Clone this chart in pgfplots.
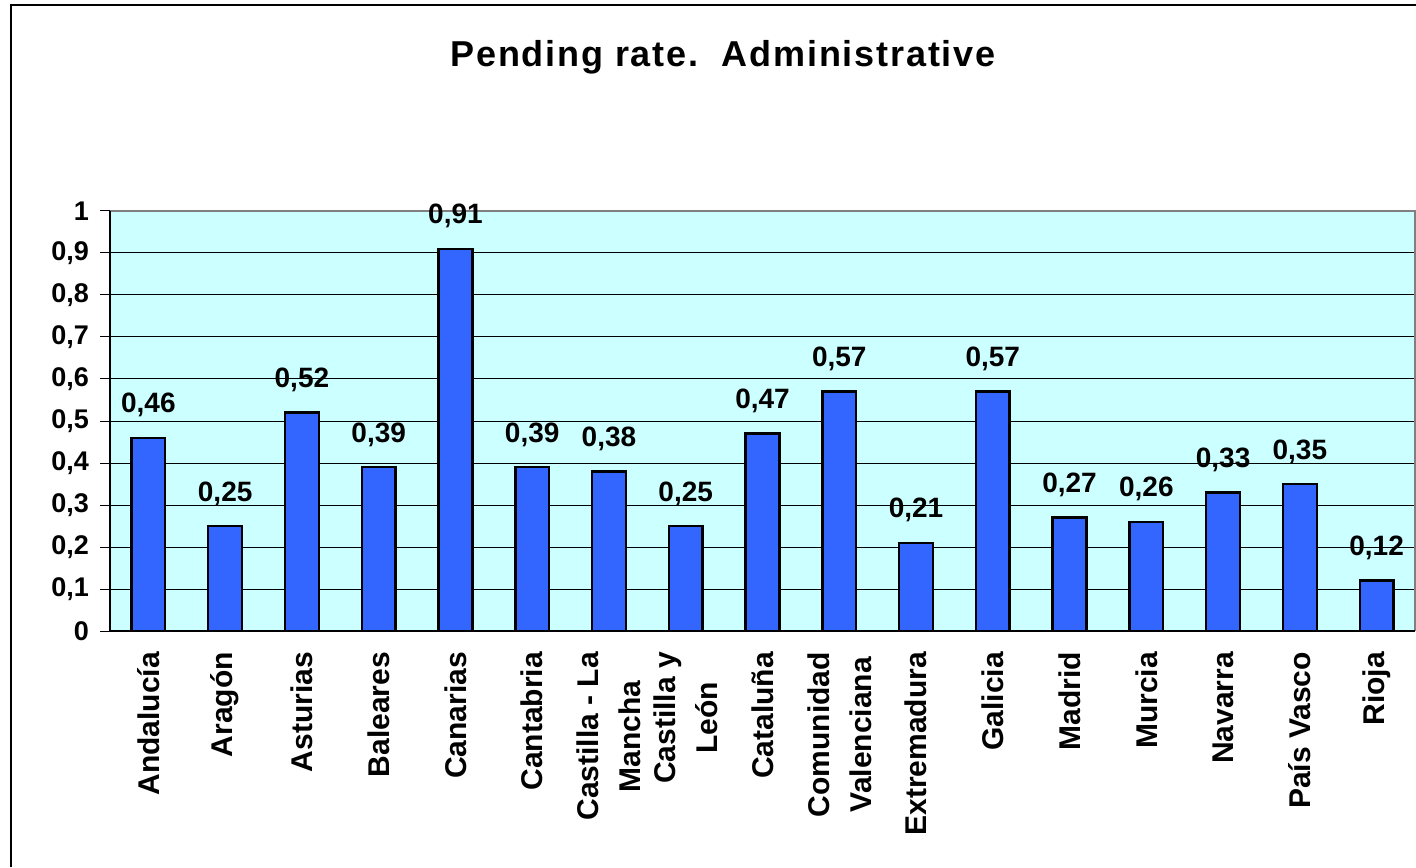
\documentclass[border=0pt]{standalone}
\usepackage{pgfplots}
\pgfplotsset{compat=1.18}
\usepackage{fontspec}
\setmainfont{Liberation Sans}
\newfontfamily\titlefont[LetterSpace=5]{Liberation Sans}
\definecolor{plotbg}{HTML}{CCFFFF}
\definecolor{barblue}{HTML}{3366FF}
\begin{document}
\begin{tikzpicture}
\useasboundingbox (0pt,0pt) rectangle (708pt,433.5pt);
\draw[line width=0.8pt] (5.5pt,0pt) -- (5.5pt,431pt) -- (712pt,431pt);
\node[font=\titlefont\bfseries\fontsize{18}{21}\selectfont] at (361.5pt,405pt) {Pending rate.\ \ Administrative};
\begin{axis}[
  at={(55pt,118pt)}, anchor=south west,
  width=652.5pt, height=210pt, scale only axis,
  xmin=-0.5, xmax=16.5, ymin=0, ymax=1,
  axis background/.style={fill=plotbg},
  axis line style={draw=none},
  ytick={0,0.1,...,1},
  yticklabels={0,{0,1},{0,2},{0,3},{0,4},{0,5},{0,6},{0,7},{0,8},{0,9},1},
  yticklabel style={font=\bfseries\fontsize{13.5}{16}\selectfont, xshift=-2pt},
  ymajorgrids, grid style={black, line width=0.5pt},
  xtick={0,...,16},
  xticklabels={Andalucía,Aragón,Asturias,Baleares,Canarias,Cantabria,{Castilla - La\\Mancha},{Castilla y\\León},Cataluña,{Comunidad\\Valenciana},Extremadura,Galicia,Madrid,Murcia,Navarra,País Vasco,Rioja},
  xticklabel style={rotate=90, anchor=east, align=center, font=\bfseries\fontsize{15}{21}\selectfont, xshift=-2pt},
  major x tick style={draw=none},
  extra x ticks={-0.5,0.5,...,16.5},
  extra x tick labels={},
  extra x tick style={major tick length=5pt, tick style={black, line width=0.5pt}, tick pos=left, xtick align=outside, grid=none},
  tick align=outside, tick pos=left,
  major tick length=5pt,
  y tick style={black, line width=0.5pt},
  ybar, bar width=0.44,
  nodes near coords,
  nodes near coords style={font=\bfseries\fontsize{14}{16}\selectfont, anchor=base, yshift=12.5pt},
  point meta=explicit symbolic,
  clip=false,
]
\addplot[fill=barblue, draw=black, line width=1.2pt] coordinates {
(0,0.46) [0,46]
(1,0.25) [0,25]
(2,0.52) [0,52]
(3,0.39) [0,39]
(4,0.91) [0,91]
(5,0.39) [0,39]
(6,0.38) [0,38]
(7,0.25) [0,25]
(8,0.47) [0,47]
(9,0.57) [0,57]
(10,0.21) [0,21]
(11,0.57) [0,57]
(12,0.27) [0,27]
(13,0.26) [0,26]
(14,0.33) [0,33]
(15,0.35) [0,35]
(16,0.12) [0,12]
};
\draw[gray, line width=0.8pt] (rel axis cs:0,1) -- (rel axis cs:1,1) -- (rel axis cs:1,0);
\draw[black, line width=0.8pt] (rel axis cs:0,1) -- (rel axis cs:0,0) -- (rel axis cs:1,0);
\end{axis}
\end{tikzpicture}
\end{document}
